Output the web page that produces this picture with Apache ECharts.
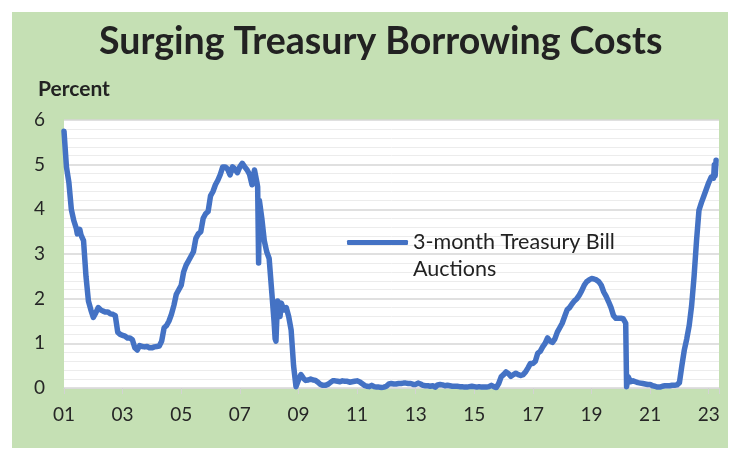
<!DOCTYPE html>
<html><head><meta charset="utf-8">
<script src="https://cdn.jsdelivr.net/npm/echarts@6/dist/echarts.min.js"></script>
<style>
html,body{margin:0;padding:0;background:#fff;width:738px;height:460px;overflow:hidden}
#frame{position:absolute;left:12px;top:12px;width:716px;height:436px;background:#c5e0b4}
#chart{width:716px;height:436px}
</style></head>
<body><div id="frame"><div id="chart"></div></div>
<script>
const titleText = 'Surging Treasury Borrowing Costs';
const unitLabel = 'Percent';
const seriesName = '3-month Treasury Bill\nAuctions';
const firstYear = 2001;

// Monthly readings (Jan..Dec), percent
const r2001 = [5.75, 4.95, 4.6, 4.0, 3.75, 3.58, 3.5, 3.42, 3.3, 2.5, 1.95, 1.75];
const r2002 = [1.58, 1.68, 1.8, 1.75, 1.72, 1.7, 1.7, 1.66, 1.65, 1.62, 1.25, 1.2];
const r2003 = [1.18, 1.16, 1.12, 1.12, 1.08, 0.9, 0.85, 0.95, 0.93, 0.92, 0.93, 0.9];
const r2004 = [0.9, 0.92, 0.93, 0.94, 1.05, 1.35, 1.4, 1.5, 1.65, 1.85, 2.1, 2.2];
const r2005 = [2.3, 2.6, 2.75, 2.85, 2.95, 3.05, 3.35, 3.45, 3.5, 3.8, 3.9, 3.95];
const r2006 = [4.3, 4.4, 4.55, 4.65, 4.78, 4.95, 4.95, 4.9, 4.77, 4.95, 4.9, 4.82];
const r2007 = [4.95, 5.03, 4.95, 4.88, 4.78, 4.55, 4.88, 4.6, 4.2, 3.8, 3.3, 3.05];
const r2008 = [2.9, 2.2, 1.5, 1.35, 1.9, 1.9, 1.75, 1.8, 1.6, 1.3, 0.5, 0.03];
const r2009 = [0.18, 0.3, 0.22, 0.17, 0.18, 0.2, 0.18, 0.17, 0.13, 0.08, 0.06, 0.06];
const r2010 = [0.08, 0.12, 0.16, 0.16, 0.15, 0.14, 0.16, 0.15, 0.15, 0.13, 0.14, 0.15];
const r2011 = [0.16, 0.14, 0.1, 0.06, 0.04, 0.03, 0.06, 0.03, 0.02, 0.02, 0.01, 0.02];
const r2012 = [0.04, 0.09, 0.1, 0.09, 0.09, 0.1, 0.1, 0.11, 0.11, 0.1, 0.1, 0.08];
const r2013 = [0.08, 0.11, 0.09, 0.06, 0.05, 0.05, 0.04, 0.05, 0.02, 0.07, 0.08, 0.07];
const r2014 = [0.05, 0.06, 0.05, 0.04, 0.04, 0.04, 0.03, 0.03, 0.02, 0.02, 0.03, 0.04];
const r2015 = [0.03, 0.02, 0.03, 0.02, 0.02, 0.02, 0.03, 0.06, 0.03, 0.01, 0.1, 0.25];
const r2016 = [0.3, 0.36, 0.32, 0.26, 0.3, 0.33, 0.3, 0.28, 0.3, 0.36, 0.45, 0.55];
const r2017 = [0.55, 0.6, 0.78, 0.82, 0.92, 1.0, 1.12, 1.05, 1.02, 1.1, 1.25, 1.35];
const r2018 = [1.45, 1.6, 1.75, 1.8, 1.88, 1.95, 2.0, 2.08, 2.18, 2.3, 2.38, 2.42];
const r2019 = [2.45, 2.44, 2.42, 2.38, 2.3, 2.15, 2.05, 1.93, 1.8, 1.62, 1.56, 1.56];
const r2020 = [1.56, 1.55, 1.45, 0.25, 0.14, 0.16, 0.14, 0.12, 0.11, 0.1, 0.09, 0.08];
const r2021 = [0.08, 0.05, 0.04, 0.02, 0.02, 0.04, 0.05, 0.05, 0.05, 0.06, 0.06, 0.07];
const r2022 = [0.12, 0.5, 0.85, 1.1, 1.4, 1.85, 2.5, 3.3, 3.98, 4.15, 4.3, 4.45];
const r2023 = [4.6, 4.72, 4.7, 5.1];

// Intra-month readings (sharp moves)
const extraDates = ['2001-06-15', '2001-07-15', '2007-07-15', '2007-08-10', '2007-08-22',
                    '2008-03-15', '2008-03-25', '2008-04-15', '2008-05-15',
                    '2020-03-12', '2020-03-20', '2023-03-10', '2023-03-20'];
const extraRates = [3.45, 3.55, 4.88, 4.5, 2.8,
                    1.1, 1.05, 1.95, 1.6,
                    0.03, 0.02, 5.0, 4.75];

const yearly = [r2001, r2002, r2003, r2004, r2005, r2006, r2007, r2008, r2009, r2010, r2011, r2012,
                r2013, r2014, r2015, r2016, r2017, r2018, r2019, r2020, r2021, r2022, r2023];

function toX(dateStr) {
  const p = dateStr.split('-').map(Number);
  return (p[0] - firstYear) + (p[1] - 1) / 12 + ((p[2] || 1) - 1) / 365;
}
const points = [];
yearly.forEach((arr, i) => {
  arr.forEach((v, m) => {
    const ds = (firstYear + i) + '-' + String(m + 1).padStart(2, '0');
    points.push([toX(ds), v]);
  });
});
extraDates.forEach((d, i) => points.push([toX(d), extraRates[i]]));
points.sort((a, b) => a[0] - b[0]);

const chart = echarts.init(document.getElementById('chart'), null, {renderer: 'canvas'});
const textColor = '#262626';
chart.setOption({
  animation: false,
  backgroundColor: 'transparent',
  title: [
    { text: titleText, left: 87, top: 11, padding: 0,
      textStyle: { fontFamily: 'Lato', fontWeight: 'bold', fontSize: 37.5, color: '#222' } },
    { text: unitLabel, left: 26, top: 67, padding: 0,
      textStyle: { fontFamily: 'Lato', fontWeight: 'bold', fontSize: 21, color: '#222' } }
  ],
  legend: {
    left: 335, top: 190, padding: 0,
    icon: 'roundRect', itemWidth: 61, itemHeight: 5,
    data: [seriesName],
    formatter: function (name) { return ' \n' + name; },
    textStyle: { fontFamily: 'Lato', fontSize: 21.5, color: '#222', lineHeight: 27 }
  },
  grid: { left: 52, top: 108, right: 9, bottom: 60, show: true, backgroundColor: '#fff', borderWidth: 0 },
  xAxis: {
    type: 'value', min: 0, max: 22.35, interval: 2,
    axisLine: { show: true, lineStyle: { color: '#d9d9d9', width: 1 } },
    axisTick: { show: true, length: 6, lineStyle: { color: '#d3d3d3' } },
    splitLine: { show: false },
    axisLabel: {
      margin: 17, fontFamily: 'Lato', fontSize: 19, color: textColor,
      formatter: function (v) {
        const r = Math.round(v);
        if (Math.abs(v - r) > 1e-6 || r % 2 !== 0) return '';
        return String((firstYear + r) % 100).padStart(2, '0');
      }
    }
  },
  yAxis: {
    type: 'value', min: 0, max: 6, interval: 1,
    axisLine: { show: false }, axisTick: { show: false },
    axisLabel: { margin: 19, fontFamily: 'Lato', fontSize: 19, color: textColor },
    splitLine: { show: true, lineStyle: { color: '#d6d6d6', width: 1.5 } },
    minorTick: { show: false, splitNumber: 5 },
    minorSplitLine: { show: true, lineStyle: { color: '#ececec', width: 1 } }
  },
  series: [{
    name: seriesName, type: 'line', data: points,
    showSymbol: false, symbol: 'none',
    lineStyle: { color: '#4472c4', width: 5.5, cap: 'round', join: 'round' },
    itemStyle: { color: '#4472c4' }
  }]
});
</script>
</body></html>
